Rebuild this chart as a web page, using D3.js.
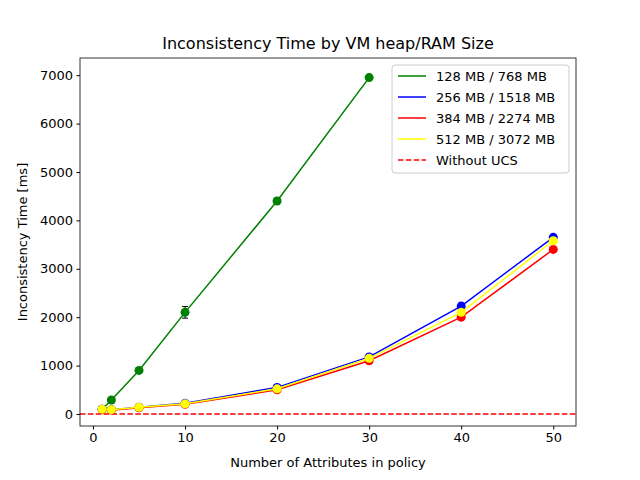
<!DOCTYPE html><html><head><meta charset="utf-8"><script src="https://cdn.jsdelivr.net/npm/d3@7"></script>
<style>body{margin:0;background:#fff}text{font-family:"DejaVu Sans",sans-serif}</style></head><body><svg id="c" width="640" height="480"></svg>
<script>
const xs = [1,2,5,10,20,30,40,50];
const names = ["128 MB / 768 MB","256 MB / 1518 MB","384 MB / 2274 MB","512 MB / 3072 MB"];
const colors = ["green","blue","red","yellow"];
const vals = [
 [100,290,900,2100,4400,6950],
 [100,90,140,220,550,1180,2230,3650],
 [90,80,130,200,500,1100,2000,3400],
 [100,90,140,210,520,1150,2100,3580]];
const errs = [
 [20,20,30,120,60,40],
 [10,10,10,15,20,30,60,40],
 [10,10,10,15,20,30,30,30],
 [10,10,10,15,20,30,30,30]];
const baseline = 0;
const svg=d3.select("#c");
const L=80,R=576,T=58,B=426;
const x=d3.scaleLinear().domain([-1.41,52.47]).range([L,R]);
const y=d3.scaleLinear().domain([-248,7355]).range([B,T]);
svg.append("g").attr("transform",`translate(0,${B})`).call(d3.axisBottom(x).tickValues([0,10,20,30,40,50]).tickFormat(d3.format("d")).tickSize(3.5).tickPadding(3.5)).call(g=>g.select(".domain").remove());
svg.append("g").attr("transform",`translate(${L},0)`).call(d3.axisLeft(y).tickValues([0,1000,2000,3000,4000,5000,6000,7000]).tickFormat(d3.format("d")).tickSize(3.5).tickPadding(3.5)).call(g=>g.select(".domain").remove());
svg.selectAll(".tick text").attr("font-size",13).attr("fill","#000");
svg.append("line").attr("x1",x(-1.41)).attr("x2",x(52.47)).attr("y1",y(baseline)).attr("y2",y(baseline)).attr("stroke","red").attr("stroke-width",1.5).attr("stroke-dasharray","5.5,2.4");
vals.forEach((v,i)=>{
 const pts=v.map((d,j)=>[xs[j],d,errs[i][j]]);
 svg.append("path").attr("d",d3.line().x(d=>x(d[0])).y(d=>y(d[1]))(pts)).attr("fill","none").attr("stroke",colors[i]).attr("stroke-width",1.5);
 pts.forEach(p=>{
  svg.append("line").attr("x1",x(p[0])).attr("x2",x(p[0])).attr("y1",y(p[1]-p[2])).attr("y2",y(p[1]+p[2])).attr("stroke","black");
  [p[1]-p[2],p[1]+p[2]].forEach(e=>svg.append("line").attr("x1",x(p[0])-3).attr("x2",x(p[0])+3).attr("y1",y(e)).attr("y2",y(e)).attr("stroke","black"));
  svg.append("circle").attr("cx",x(p[0])).attr("cy",y(p[1])).attr("r",4.5).attr("fill",colors[i]);
 });
});
svg.append("rect").attr("x",L).attr("y",T).attr("width",R-L).attr("height",B-T).attr("fill","none").attr("stroke","#000").attr("stroke-width",0.8);
svg.append("text").attr("x",(L+R)/2).attr("y",49).attr("text-anchor","middle").attr("font-size",16).text("Inconsistency Time by VM heap/RAM Size");
svg.append("text").attr("x",(L+R)/2).attr("y",467).attr("text-anchor","middle").attr("font-size",13).text("Number of Attributes in policy");
svg.append("text").attr("transform",`translate(27,${(T+B)/2}) rotate(-90)`).attr("text-anchor","middle").attr("font-size",13).text("Inconsistency Time [ms]");
const lg=svg.append("g");
lg.append("rect").attr("x",392).attr("y",65).attr("width",177).attr("height",108).attr("rx",3).attr("fill","#fff").attr("stroke","#ccc");
names.concat(["Without UCS"]).forEach((n,i)=>{
 const yy=76+i*21;
 lg.append("line").attr("x1",398).attr("x2",426).attr("y1",yy).attr("y2",yy).attr("stroke",i<4?colors[i]:"red").attr("stroke-width",1.5).attr("stroke-dasharray",i<4?null:"5.5,2.4");
 lg.append("text").attr("x",436).attr("y",yy+5).attr("font-size",13).text(n);
});
</script></body></html>
